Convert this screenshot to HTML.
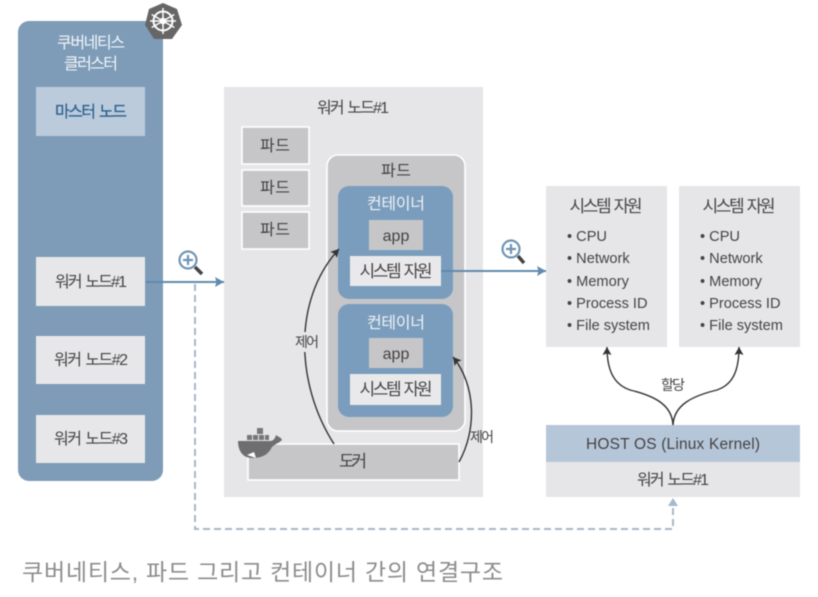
<!DOCTYPE html>
<html><head><meta charset="utf-8"><style>
html,body{margin:0;padding:0;background:#fff;width:818px;height:597px;overflow:hidden}
svg{display:block;filter:blur(.4px)}
text{font-family:"Liberation Sans","Noto Sans CJK KR",sans-serif;font-size:16px;fill:#444;text-anchor:middle;word-spacing:2px}
.s{font-size:17px}
.l{text-anchor:start;font-size:14.6px;word-spacing:0}
.k{font-size:14px}
</style></head><body>
<svg width="818" height="597" viewBox="0 0 818 597" xmlns="http://www.w3.org/2000/svg">
<defs>
<marker id="bl" markerUnits="userSpaceOnUse" markerWidth="10" markerHeight="12" refX="9" refY="5.5" orient="auto"><path d="M0 0.5L9 5.5L0 10.5L1.5 5.5Z" fill="#5f8bb0"/></marker>
<marker id="dk" markerUnits="userSpaceOnUse" markerWidth="10" markerHeight="10" refX="8" refY="4.5" orient="auto"><path d="M0 0L8 4.5L0 9L1.5 4.5Z" fill="#333"/></marker>
</defs>
<rect width="818" height="597" fill="#fff"/>

<!-- cluster -->
<rect x="18" y="21" width="145" height="460" rx="11" fill="#7e9cb8"/>
<text x="91" y="48" style="fill:#f2f5f8" textLength="68">쿠버네티스</text>
<text x="91" y="69" style="fill:#f2f5f8" textLength="54">클러스터</text>
<rect x="36" y="87" width="109" height="49" fill="#bccbdc"/>
<text x="91" y="117" style="fill:#2f6390;stroke:#2f6390;stroke-width:.25" textLength="72">마스터 노드</text>
<rect x="36" y="257" width="109" height="49" fill="#e7e7e9"/>
<text x="91" y="287" textLength="72">워커 노드#1</text>
<rect x="36" y="336" width="109" height="48" fill="#e7e7e9"/>
<text x="91" y="365" textLength="74">워커 노드#2</text>
<rect x="36" y="415" width="109" height="48" fill="#e7e7e9"/>
<text x="91" y="444" textLength="74">워커 노드#3</text>

<!-- helm -->
<polygon points="163,3 177,9 182,25 172,39 154,39 145,25 149,9" fill="#666"/>
<g stroke="#fff" fill="none">
<circle cx="163" cy="21" r="9.500" stroke-width="2"/>
<circle cx="163" cy="21" r="2.500" stroke-width="1.600"/>
<path stroke-width="1.500" d="M163 8V34M151.700 14.500L174.300 27.500M174.300 14.500L151.700 27.500M150 21H176"/>
</g>

<!-- worker panel -->
<rect x="224" y="87" width="259" height="410" fill="#e6e6e8"/>
<text x="353" y="113" textLength="72">워커 노드#1</text>
<rect x="242" y="127" width="67" height="37" fill="#c6c6c8" stroke="#fff" stroke-width="1.600"/>
<rect x="242" y="170" width="67" height="36" fill="#c6c6c8" stroke="#fff" stroke-width="1.600"/>
<rect x="242" y="212" width="67" height="37" fill="#c6c6c8" stroke="#fff" stroke-width="1.600"/>
<text x="275" y="151" textLength="30">파드</text>
<text x="275" y="193" textLength="30">파드</text>
<text x="275" y="235" textLength="30">파드</text>

<rect x="327" y="155" width="138" height="276" rx="11" fill="#c6c6c8" stroke="#fff" stroke-width="1.600"/>
<text x="396" y="176" textLength="30">파드</text>
<rect x="338" y="186" width="115" height="113" rx="11" fill="#7b9dbd"/>
<text x="396" y="209" style="fill:#eef2f6" textLength="58">컨테이너</text>
<rect x="369" y="220" width="54" height="30" fill="#c6c6c8"/>
<text x="396" y="241">app</text>
<rect x="350" y="256" width="91" height="30" fill="#e9e9eb"/>
<text x="396" y="277" class="s" textLength="73">시스템 자원</text>
<rect x="338" y="304" width="115" height="113" rx="11" fill="#7b9dbd"/>
<text x="396" y="328" style="fill:#eef2f6" textLength="58">컨테이너</text>
<rect x="369" y="338" width="54" height="30" fill="#c6c6c8"/>
<text x="396" y="359">app</text>
<rect x="350" y="374" width="91" height="31" fill="#e9e9eb"/>
<text x="396" y="395" class="s" textLength="73">시스템 자원</text>

<rect x="248" y="444" width="211" height="36" fill="#c6c6c8" stroke="#fff" stroke-width="1.600"/>
<text x="353" y="467" class="s" textLength="28">도커</text>

<!-- whale -->
<path d="M238 441H270C273 441 275 439 276 435C278 437 281 437 282 440C279 443 275 444 272 447C268 455 262 458 252 458C243 458 238 451 238 441Z" fill="#6e6e70"/>
<path d="M247 455L254 452L256 458Z" fill="#fff"/>
<g fill="#77777a"><rect x="247" y="435" width="5" height="5"/><rect x="253" y="435" width="5" height="5"/><rect x="259" y="435" width="5" height="5"/><rect x="257" y="428" width="6" height="6"/><rect x="265" y="435" width="4" height="5"/></g>

<!-- control arrows -->
<path d="M334 444C296 385 292 300 339 249" fill="none" stroke="#333" stroke-width="1.400" marker-end="url(#dk)"/>
<rect x="294" y="332" width="26" height="20" fill="#e6e6e8"/>
<text x="307" y="347" class="k" textLength="24">제어</text>
<path d="M459 462C477 430 476 385 453 357" fill="none" stroke="#333" stroke-width="1.400" marker-end="url(#dk)"/>
<text x="482" y="442" class="k" textLength="24">제어</text>

<!-- right boxes -->
<rect x="546" y="186" width="121" height="161" fill="#e6e6e8"/>
<rect x="679" y="186" width="121" height="161" fill="#e6e6e8"/>
<g>
<text x="606" y="212" class="s" textLength="73">시스템 자원</text>
<text x="739" y="212" class="s" textLength="73">시스템 자원</text>
<text class="l" x="567" y="241">• CPU</text>
<text class="l" x="567" y="263">• Network</text>
<text class="l" x="567" y="286">• Memory</text>
<text class="l" x="567" y="308">• Process ID</text>
<text class="l" x="567" y="330">• File system</text>
<text class="l" x="700" y="241">• CPU</text>
<text class="l" x="700" y="263">• Network</text>
<text class="l" x="700" y="286">• Memory</text>
<text class="l" x="700" y="308">• Process ID</text>
<text class="l" x="700" y="330">• File system</text>
</g>

<rect x="546" y="425" width="254" height="37" fill="#b6c6d9"/>
<rect x="546" y="462" width="254" height="35" fill="#e6e6e8"/>
<text x="673" y="449" textLength="174" style="font-size:15.500px;word-spacing:0">HOST OS (Linux Kernel)</text>
<text x="673" y="485" textLength="72">워커 노드#1</text>
<path d="M673 425C672 405 655 396 630 390C615 385 607 372 607 347" fill="none" stroke="#333" stroke-width="1.400" marker-end="url(#dk)"/>
<path d="M673 425C674 405 692 396 717 390C732 385 739 372 739 347" fill="none" stroke="#333" stroke-width="1.400" marker-end="url(#dk)"/>
<text x="673" y="390" class="k" textLength="24">할당</text>

<!-- blue arrows -->
<path d="M146 282H224" stroke="#5f8bb0" stroke-width="2" fill="none" marker-end="url(#bl)"/>
<path d="M441 271H546" stroke="#5f8bb0" stroke-width="2" fill="none" marker-end="url(#bl)"/>
<path d="M195 284V529H673V504" stroke="#a5b8cc" stroke-width="2" stroke-dasharray="7 4" fill="none"/>
<path d="M673 498L668 506H678Z" fill="#a5b8cc"/>

<!-- magnifiers -->
<g fill="none">
<circle cx="188" cy="260" r="8.500" stroke="#6f95b5" stroke-width="2.200"/>
<path d="M183 260H193M188 255V265" stroke="#6f95b5" stroke-width="2.200"/>
<path d="M195 267L202 274" stroke="#444" stroke-width="3.500"/>
<circle cx="511" cy="249" r="8.500" stroke="#6f95b5" stroke-width="2.200"/>
<path d="M506 249H516M511 244V254" stroke="#6f95b5" stroke-width="2.200"/>
<path d="M518 256L524 263" stroke="#444" stroke-width="3.500"/>
</g>

<text x="22" y="580" style="text-anchor:start;font-size:23px;fill:#8c8c8c;word-spacing:0" textLength="481">쿠버네티스, 파드 그리고 컨테이너 간의 연결구조</text>
</svg>
</body></html>
